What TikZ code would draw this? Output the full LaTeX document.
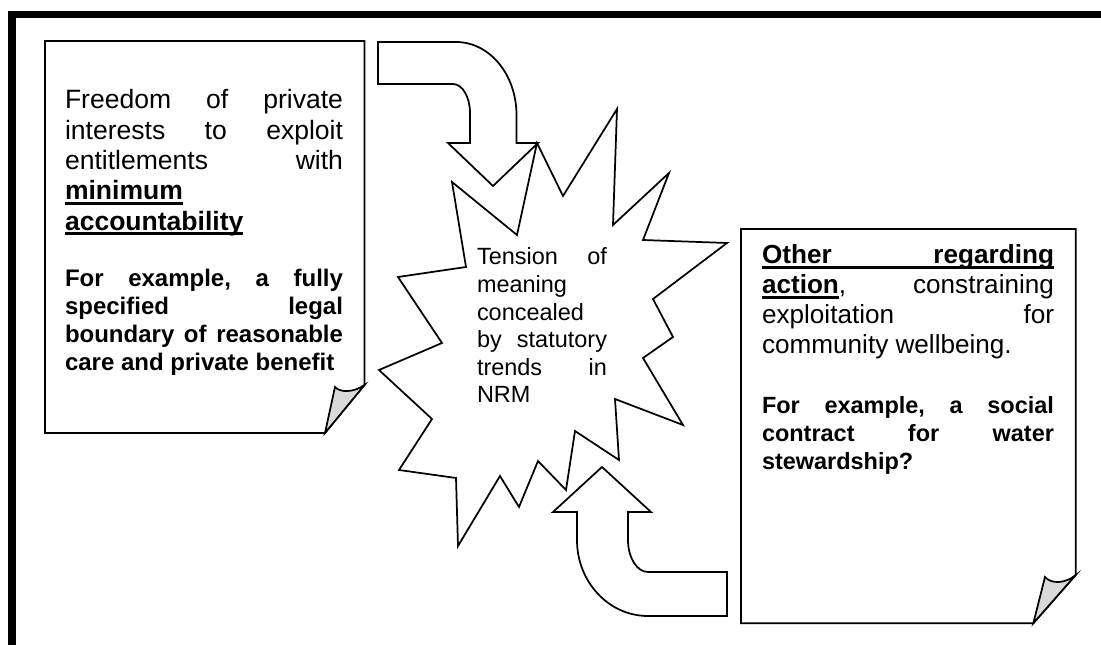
\documentclass[tikz,border=0pt]{standalone}
\usepackage{fontspec}
\setmainfont{Liberation Sans}
\newsavebox\ulsave
\newcommand\ulx[1]{\sbox\ulsave{#1}\rlap{\rule[-3.6pt]{\wd\ulsave}{2.3pt}}\usebox\ulsave}
\newcommand\jl[1]{\hbox to\hsize{#1}}
\newcommand\txtblock[4]{\vtop{\hsize=#1\fontsize{#2}{#3}\selectfont\lineskiplimit=-\maxdimen #4}}
\definecolor{flapgray}{gray}{0.85}
\begin{document}
\begin{tikzpicture}[x=0.75pt,y=-0.75pt,line join=miter,
  shapeline/.style={draw=black,line width=1.3pt,fill=white},
  flapstyle/.style={draw=black,line width=1.3pt,fill=flapgray},
  txt/.style={anchor=base west,inner sep=0pt,outer sep=0pt}]
\useasboundingbox (0,0) rectangle (1101,645);
\clip (0,0) rectangle (1101,645);
% outer frame
\draw[line width=5.6pt] (12,680) -- (12,14.5) -- (1140,14.5);

% left page
\draw[shapeline] (45,41) -- (364.5,41) -- (364.5,385) -- (325,433) -- (45,433) -- cycle;
\draw[flapstyle] (364.5,385) .. controls (353,393) and (340,392.5) .. (335,387) -- (325,433) -- cycle;

% right page
\draw[shapeline] (741,229) -- (1075.7,229) -- (1075.7,575) -- (1033.3,623.3) -- (741,623.3) -- cycle;
\draw[flapstyle] (1075.7,575) .. controls (1065,584) and (1051,584) .. (1045,577) -- (1033.3,623.3) -- cycle;

% starburst
\draw[shapeline] (537,143) -- (563,196) -- (617,109) -- (613,225) -- (669,173) -- (643,240)
  -- (727,243) -- (653,299) -- (673,337) -- (643,358) -- (683,425) -- (615,399)
  -- (619,460) -- (575,431) -- (566,490) -- (538,461) -- (519,507) -- (500,476)
  -- (458,546) -- (456,478) -- (399,470) -- (432,419) -- (379,370) -- (442,343)
  -- (398,277) -- (466,267) -- (452,182) -- (517,235) -- cycle;

% top bent arrow
\draw[shapeline] (378,42) -- (456,42) .. controls (489.7,42) and (516.5,74.7) .. (516.5,115)
  -- (516.5,143) -- (538,143) -- (493,186) -- (448,143) -- (470,143) -- (470,113)
  .. controls (470,97) and (462.4,84) .. (453,84) -- (378,84) -- cycle;

% bottom bent arrow
\draw[shapeline] (602,467) -- (651,512) -- (628,512) -- (628,540)
  .. controls (628,557.7) and (637,572) .. (648,572) -- (727,572) -- (727,616)
  -- (648,616) .. controls (608.8,616) and (577,582) .. (577,540) -- (577,512)
  -- (553,512) -- cycle;

% texts
\node[txt] (leftmain) at (65,109) {\txtblock{208.5pt}{19.9pt}{22.7pt}{%
  \jl{Freedom\hfill of\hfill private}%
  \jl{interests\hfill to\hfill exploit}%
  \jl{entitlements\hfill with}%
  \jl{\ulx{\textbf{minimum}}\hfill}%
  \jl{\ulx{\textbf{accountability}}\hfill}}};
\node[txt] (leftex) at (65,287) {\txtblock{208.5pt}{18pt}{21pt}{\bfseries
  \jl{For\hfill example,\hfill a\hfill fully}%
  \jl{specified\hfill legal}%
  \jl{boundary\hfill of\hfill reasonable}%
  \jl{care and private benefit\hfill}}};
\node[txt] (burst) at (477,265) {\txtblock{97.5pt}{17.6pt}{20.7pt}{%
  \jl{Tension\hfill of}%
  \jl{meaning\hfill}%
  \jl{concealed\hfill}%
  \jl{by\hfill statutory}%
  \jl{trends\hfill in}%
  \jl{NRM\hfill}}};
\node[txt] (rightmain) at (762,264) {\txtblock{219pt}{19.6pt}{22.5pt}{%
  \jl{\ulx{\hbox to\hsize{\bfseries Other\hfill regarding}}}%
  \jl{\ulx{\textbf{action}},\hfill constraining}%
  \jl{exploitation\hfill for}%
  \jl{community wellbeing.\hfill}}};
\node[txt] (rightex) at (762,414) {\txtblock{219pt}{17.6pt}{20.8pt}{\bfseries
  \jl{For\hfill example,\hfill a\hfill social}%
  \jl{contract\hfill for\hfill water}%
  \jl{stewardship?\hfill}}};
\end{tikzpicture}
\end{document}
